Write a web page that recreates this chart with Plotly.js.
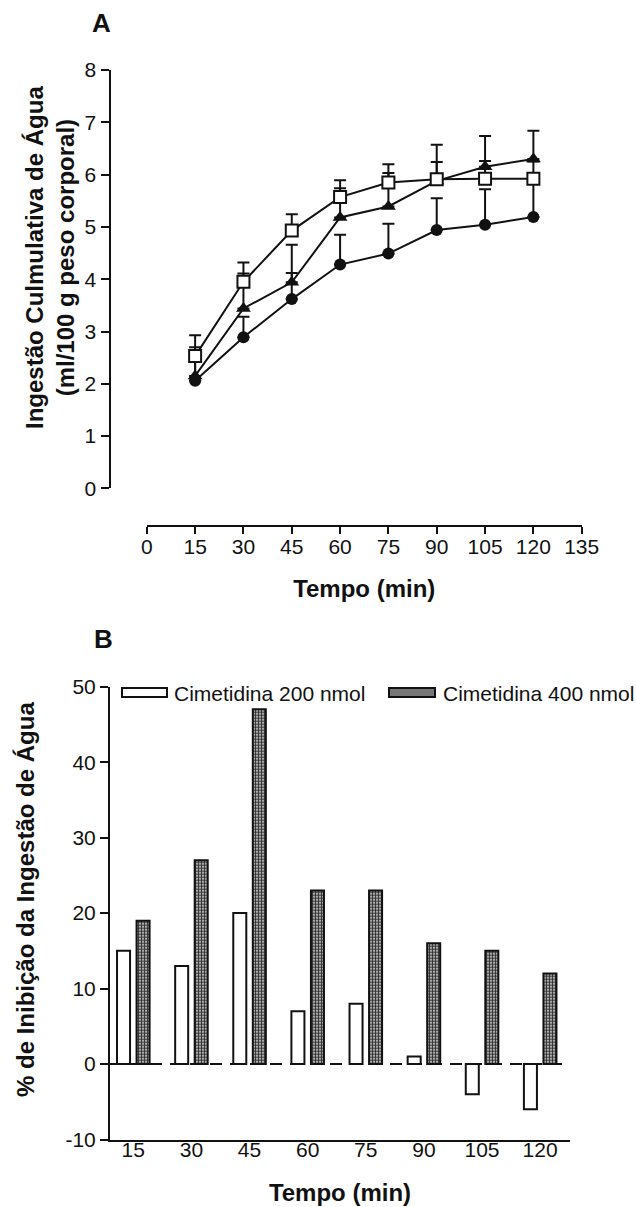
<!DOCTYPE html>
<html>
<head>
<meta charset="utf-8">
<script src="https://cdn.plot.ly/plotly-3.0.1.min.js"></script>
<style>
html,body{margin:0;padding:0;background:#fff;}
#chart{width:636px;height:1207px;}
</style>
</head>
<body>
<div id="chart"></div>
<script>
// ---------- Panel A data ----------
const tempo = [15, 30, 45, 60, 75, 90, 105, 120];
const salina = [2.53, 3.95, 4.93, 5.57, 5.85, 5.91, 5.92, 5.92];
const salinaErr = [0.40, 0.37, 0.31, 0.17, 0.35, 0.33, 0.34, 0.33];
const cim200 = [2.15, 3.44, 3.94, 5.18, 5.39, 5.88, 6.15, 6.30];
const cim200Err = [0.55, 0.67, 0.72, 0.71, 0.64, 0.69, 0.59, 0.54];
const cim400 = [2.06, 2.89, 3.62, 4.28, 4.49, 4.94, 5.04, 5.19];
const cim400Err = [0.45, 0.39, 0.50, 0.57, 0.57, 0.61, 0.68, 0.72];
const xTicksA = [0, 15, 30, 45, 60, 75, 90, 105, 120, 135];
const yTicksA = [0, 1, 2, 3, 4, 5, 6, 7, 8];

// ---------- Panel B data ----------
const categorias = ['15', '30', '45', '60', '75', '90', '105', '120'];
const inib200 = [15, 13, 20, 7, 8, 1, -4, -6];
const inib400 = [19, 27, 47, 23, 23, 16, 15, 12];
const yTicksB = [-10, 0, 10, 20, 30, 40, 50];

const W = 636, H = 1207;
const px = x => x / W;
const py = y => 1 - y / H;
const FONT = 'Liberation Sans, Arial, Helvetica, sans-serif';
const INK = '#111';
const zeros = tempo.map(() => 0);

function errTrace(y, err) {
  return {
    x: tempo, y: y, xaxis: 'x', yaxis: 'y', type: 'scatter', mode: 'markers',
    marker: {size: 1, color: 'rgba(0,0,0,0)'},
    error_y: {type: 'data', symmetric: false, array: err, arrayminus: zeros,
              color: INK, thickness: 2, width: 6},
    showlegend: false, hoverinfo: 'skip'
  };
}

const traces = [
  errTrace(cim400, cim400Err),
  errTrace(cim200, cim200Err),
  errTrace(salina, salinaErr),
  {x: tempo, y: cim400, name: 'Cimetidina 400 nmol', xaxis: 'x', yaxis: 'y', type: 'scatter',
   mode: 'lines+markers', line: {color: INK, width: 2},
   marker: {symbol: 'circle', size: 12, color: INK}, showlegend: false},
  {x: tempo, y: cim200, name: 'Cimetidina 200 nmol', xaxis: 'x', yaxis: 'y', type: 'scatter',
   mode: 'lines+markers', line: {color: INK, width: 2},
   marker: {symbol: 'triangle-up', size: 13, color: INK}, showlegend: false},
  {x: tempo, y: salina, name: 'Salina 0,9%', xaxis: 'x', yaxis: 'y', type: 'scatter',
   mode: 'lines+markers', line: {color: INK, width: 2},
   marker: {symbol: 'square', size: 12, color: '#fff', line: {color: INK, width: 2}}, showlegend: false},
  // Panel B
  {x: categorias, y: inib200, name: 'Cimetidina 200 nmol', xaxis: 'x2', yaxis: 'y2', type: 'bar',
   width: 0.224, offset: -0.279,
   marker: {color: '#fff', line: {color: INK, width: 2}}, showlegend: false},
  {x: categorias, y: inib400, name: 'Cimetidina 400 nmol', xaxis: 'x2', yaxis: 'y2', type: 'bar',
   width: 0.224, offset: 0.057,
   marker: {color: '#8a8a8a', line: {color: INK, width: 2},
            pattern: {shape: '+', fgcolor: '#222', bgcolor: '#a9a9a9', size: 3, solidity: 0.45, fillmode: 'replace'}},
   showlegend: false}
];

const axCommon = {
  showgrid: false, zeroline: false, showline: true, linecolor: INK, linewidth: 2,
  ticks: 'outside', tickcolor: INK, tickwidth: 2,
  tickfont: {family: FONT, size: 21, color: INK}
};

const layout = {
  width: W, height: H,
  margin: {l: 0, r: 0, t: 0, b: 0},
  paper_bgcolor: '#fff', plot_bgcolor: 'rgba(0,0,0,0)',
  font: {family: FONT, color: INK},
  showlegend: false,
  barmode: 'overlay',
  xaxis: Object.assign({}, axCommon, {
    domain: [px(146.8), px(581.7)], range: [0, 135],
    anchor: 'free', position: py(525.7),
    tickmode: 'array', tickvals: xTicksA, ticktext: xTicksA.map(String), ticklen: 7,
    ticklabelstandoff: -5,
    title: {text: 'Tempo (min)', font: {family: FONT, size: 24, color: INK, weight: 'bold'}, standoff: 22}
  }),
  yaxis: Object.assign({}, axCommon, {
    domain: [py(488.4), py(70)], range: [0, 8],
    anchor: 'free', position: px(109.5),
    tickmode: 'array', tickvals: yTicksA, ticktext: yTicksA.map(String), ticklen: 8
  }),
  xaxis2: Object.assign({}, axCommon, {
    domain: [px(110), px(570)], range: [-0.40, 7.514], type: 'category',
    anchor: 'y2', ticks: '', ticklabelstandoff: -10,
    title: {text: 'Tempo (min)', font: {family: FONT, size: 24, color: INK, weight: 'bold'}, standoff: 24}
  }),
  yaxis2: Object.assign({}, axCommon, {
    domain: [py(1139.5), py(686.7)], range: [-10, 50],
    anchor: 'x2', tickmode: 'array', tickvals: yTicksB, ticktext: yTicksB.map(String), ticklen: 8
  }),
  shapes: [
    {type: 'line', xref: 'x2 domain', yref: 'y2', x0: 0, x1: 1, y0: 0, y1: 0,
     line: {color: INK, width: 2, dash: '12px,8px'}, layer: 'above'},
    // legend keys
    {type: 'rect', xref: 'paper', yref: 'paper', x0: px(122), x1: px(167), y0: py(697), y1: py(688),
     fillcolor: '#fff', line: {color: INK, width: 2}},
    {type: 'rect', xref: 'paper', yref: 'paper', x0: px(389), x1: px(435), y0: py(697), y1: py(688),
     fillcolor: '#777', line: {color: INK, width: 2}}
  ],
  annotations: [
    {text: '<b>A</b>', xref: 'paper', yref: 'paper', x: px(101), y: py(23), showarrow: false,
     xanchor: 'center', yanchor: 'middle', font: {family: FONT, size: 26, color: INK}},
    {text: '<b>B</b>', xref: 'paper', yref: 'paper', x: px(103), y: py(639), showarrow: false,
     xanchor: 'center', yanchor: 'middle', font: {family: FONT, size: 26, color: INK}},
    {text: '<b>Ingestão Culmulativa de Água<br>(ml/100 g peso corporal)</b>', xref: 'paper', yref: 'paper',
     x: px(50), y: py(258), showarrow: false, textangle: -90, xanchor: 'center', yanchor: 'middle',
     font: {family: FONT, size: 24, color: INK}},
    {text: '<b>% de Inibição da Ingestão de Água</b>', xref: 'paper', yref: 'paper',
     x: px(25), y: py(900), showarrow: false, textangle: -90, xanchor: 'center', yanchor: 'middle',
     font: {family: FONT, size: 24, color: INK}},
    {text: 'Cimetidina 200 nmol', xref: 'paper', yref: 'paper', x: px(172), y: py(693), showarrow: false,
     xanchor: 'left', yanchor: 'middle', font: {family: FONT, size: 21, color: INK}},
    {text: 'Cimetidina 400 nmol', xref: 'paper', yref: 'paper', x: px(441), y: py(693), showarrow: false,
     xanchor: 'left', yanchor: 'middle', font: {family: FONT, size: 21, color: INK}}
  ]
};

Plotly.newPlot('chart', traces, layout, {displayModeBar: false, staticPlot: true});
</script>
</body>
</html>
